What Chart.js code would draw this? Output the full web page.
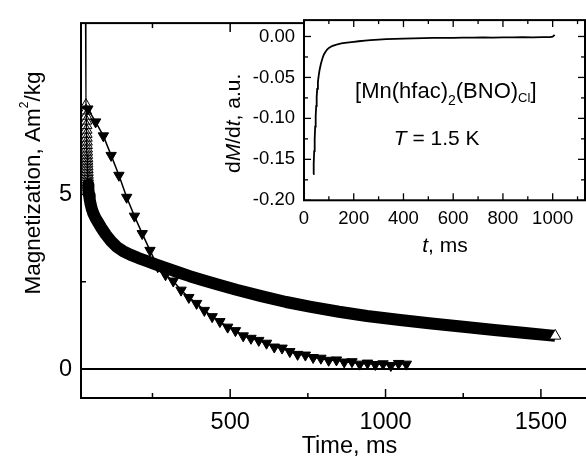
<!DOCTYPE html>
<html><head><meta charset="utf-8">
<script src="https://cdn.jsdelivr.net/npm/chart.js@4/dist/chart.umd.min.js"></script>
<style>
html,body{margin:0;padding:0;background:#fff;overflow:hidden;width:586px;height:465px;}
#wrap{position:relative;width:586px;height:465px;overflow:hidden;background:#fff;}
#main{position:absolute;left:0;top:0;}
#inset{position:absolute;left:200px;top:0;}
</style></head><body>
<div id="wrap">
<canvas id="main" width="600" height="465"></canvas>
<canvas id="inset" width="386" height="265"></canvas>
</div>
<script>
// ---------- data ----------
// open triangles: slow relaxation, Magnetization (Am2/kg) vs time (ms)
const slowT = [33, 36, 36.3, 36.6, 36.9, 37.2, 37.5, 37.8, 38.1, 38.4, 38.7, 39, 39.3, 39.6, 39.9, 40.2, 40.5, 40.8, 41.1, 41.4, 41.7, 42, 42.4, 42.8, 43.2, 43.6, 44, 46, 48, 51, 55, 60, 67, 75, 85, 100, 117, 135, 155, 180, 205, 230, 260, 295, 330, 370, 410, 460, 520, 600, 680, 760, 850, 940, 1040, 1140, 1250, 1350, 1450, 1546];
const slowM = [12, 7.56, 7.40, 7.25, 7.11, 6.98, 6.85, 6.73, 6.62, 6.51, 6.41, 6.31, 6.22, 6.13, 6.04, 5.96, 5.88, 5.80, 5.72, 5.64, 5.56, 5.49, 5.42, 5.35, 5.28, 5.21, 5.13, 4.98, 4.86, 4.72, 4.58, 4.45, 4.32, 4.2, 4.05, 3.85, 3.66, 3.5, 3.38, 3.27, 3.18, 3.1, 3.0, 2.89, 2.78, 2.66, 2.55, 2.42, 2.27, 2.09, 1.92, 1.78, 1.64, 1.52, 1.41, 1.31, 1.21, 1.12, 1.03, 0.95];
// filled triangles: fast relaxation
const fastT = [42, 67, 92, 117, 142, 167, 192, 217, 242, 267, 292, 317, 342, 367, 392, 417, 442, 467, 492, 517, 542, 567, 592, 617, 642, 667, 692, 717, 742, 767, 792, 817, 842, 867, 892, 917, 942, 967, 992, 1017, 1042, 1067];
const fastM = [7.45, 7.08, 6.68, 6.12, 5.55, 4.92, 4.38, 3.88, 3.4, 2.93, 2.7, 2.52, 2.26, 2.05, 1.88, 1.68, 1.5, 1.36, 1.2, 1.1, 0.95, 0.88, 0.82, 0.74, 0.63, 0.6, 0.5, 0.42, 0.4, 0.33, 0.31, 0.25, 0.26, 0.2, 0.21, 0.14, 0.17, 0.13, 0.15, 0.1, 0.16, 0.14];
// inset: dM/dt (a.u.) vs t (ms)
const insetT = [37, 39, 41, 43, 45, 47, 49, 51, 53, 56, 59, 62, 66, 70, 75, 80, 86, 93, 100, 108, 115, 125, 135, 150, 173, 200, 220, 245, 267, 300, 330, 365, 400, 440, 480, 520, 560, 600, 640, 680, 720, 760, 800, 840, 880, 920, 960, 990, 1000, 1008];
const insetV = [-0.168, -0.155, -0.140, -0.125, -0.110, -0.097, -0.085, -0.074, -0.064, -0.055, -0.048, -0.042, -0.036, -0.031, -0.026, -0.022, -0.019, -0.016, -0.014, -0.0125, -0.0115, -0.0105, -0.0095, -0.0085, -0.0075, -0.0065, -0.0058, -0.005, -0.0045, -0.0038, -0.0033, -0.003, -0.0025, -0.0022, -0.002, -0.0018, -0.0016, -0.0017, -0.0013, -0.0015, -0.0011, -0.0013, -0.001, -0.0012, -0.0009, -0.001, -0.0008, -0.0009, -0.0003, 0.002];

// tick values / labels
const mainXTicks = [250, 500, 750, 1000, 1250, 1500];
const mainXLabeled = [500, 1000, 1500];
const mainYTicks = [0, 2.5, 5, 7.5];
const mainYLabeled = [0, 5];
const insetXTicks = [0, 100, 200, 300, 400, 500, 600, 700, 800, 900, 1000, 1100];
const insetXLabeled = [0, 200, 400, 600, 800, 1000];
const insetYTicks = [-0.2, -0.175, -0.15, -0.125, -0.1, -0.075, -0.05, -0.025, 0];
const insetYLabeled = [-0.2, -0.15, -0.1, -0.05, 0];

// ---------- helpers ----------
const FONT = "'Liberation Sans', Arial, Helvetica, sans-serif";
const near = (arr, v) => arr.some(a => Math.abs(a - v) < 1e-9);
const pts = (xs, ys) => xs.map((x, i) => ({x: x, y: ys[i]}));

function drawRuns(ctx, runs, x, y) {
  let w = 0;
  runs.forEach(r => { ctx.font = r.f; r.w = ctx.measureText(r.t).width; w += r.w; });
  let cx = x - w / 2;
  ctx.textAlign = 'left';
  ctx.textBaseline = 'alphabetic';
  runs.forEach(r => { ctx.font = r.f; ctx.fillText(r.t, cx, y + (r.dy || 0)); cx += r.w; });
}

const frameTicks = {
  id: 'frameTicks',
  beforeDraw(chart, args, o) {
    if (!o.fill) return;
    const a = chart.chartArea, ctx = chart.ctx;
    ctx.save(); ctx.fillStyle = o.fill;
    ctx.fillRect(a.left, a.top, a.right - a.left, a.bottom - a.top);
    ctx.restore();
  },
  afterDraw(chart, args, o) {
    const a = chart.chartArea, ctx = chart.ctx;
    const xs = chart.scales.x, ys = chart.scales.y;
    ctx.save();
    ctx.strokeStyle = '#000';
    ctx.lineWidth = o.tickWidth;
    const seg = (x1, y1, x2, y2) => { ctx.beginPath(); ctx.moveTo(x1, y1); ctx.lineTo(x2, y2); ctx.stroke(); };
    xs.ticks.forEach(t => {
      const p = xs.getPixelForValue(t.value);
      const len = t.label ? o.major : o.minor;
      seg(p, a.bottom, p, a.bottom - len);
      seg(p, a.top, p, a.top + len);
    });
    ys.ticks.forEach(t => {
      const p = ys.getPixelForValue(t.value);
      const len = t.label ? o.major : o.minor;
      seg(a.left, p, a.left + len, p);
      if (o.right) seg(a.right, p, a.right - len, p);
    });
    ctx.lineWidth = o.frameWidth;
    ctx.strokeRect(a.left, a.top, a.right - a.left, a.bottom - a.top);
    ctx.restore();
  }
};

// ---------- main chart ----------
const bandStart = slowT.indexOf(43.2);
const lastSlow = slowT.length - 1;
const mainTexts = {
  id: 'mainTexts',
  afterDraw(chart) {
    const ctx = chart.ctx;
    ctx.save();
    ctx.fillStyle = '#000';
    drawRuns(ctx, [{t: 'Time, ms', f: '23.5px ' + FONT}], 349.5, 453);
    ctx.translate(39.5, 183);
    ctx.rotate(-Math.PI / 2);
    drawRuns(ctx, [
      {t: 'Magnetization, Am', f: '22.5px ' + FONT},
      {t: '2', f: '12px ' + FONT, dy: -12},
      {t: '/kg', f: '22.5px ' + FONT}
    ], 0, 0);
    ctx.restore();
  }
};

new Chart(document.getElementById('main'), {
  type: 'scatter',
  data: {
    datasets: [
      {
        label: 'fast',
        data: pts(fastT, fastM),
        showLine: true,
        borderColor: '#000',
        borderWidth: 1.5,
        pointStyle: 'triangle',
        rotation: 180,
        pointRadius: 6,
        pointBackgroundColor: '#000',
        pointBorderColor: '#000',
        pointBorderWidth: 1
      },
      {
        label: 'slow',
        data: pts(slowT, slowM),
        showLine: true,
        borderColor: '#000',
        borderWidth: 1.2,
        borderJoinStyle: 'round',
        segment: {
          borderWidth: c => (c.p0DataIndex >= bandStart ? 12 : 1.2)
        },
        pointStyle: 'triangle',
        pointRadius: c => ((c.dataIndex >= 1 && c.dataIndex <= bandStart + 2) || c.dataIndex === lastSlow ? 6.5 : 0),
        pointBackgroundColor: c => (c.dataIndex === lastSlow ? '#fff' : 'rgba(0,0,0,0)'),
        pointBorderColor: '#000',
        pointBorderWidth: 1,
        clip: 0
      }
    ]
  },
  options: {
    responsive: false,
    animation: false,
    events: [],
    layout: {padding: {top: 15, right: 5, left: 0, bottom: 0}},
    plugins: {
      legend: {display: false},
      tooltip: {enabled: false},
      frameTicks: {major: 9, minor: 5, tickWidth: 1.5, frameWidth: 2, right: false, fill: null}
    },
    scales: {
      x: {
        type: 'linear', min: 20, max: 1666,
        afterBuildTicks: s => { s.ticks = mainXTicks.map(v => ({value: v})); },
        afterFit: s => { s.height = 67; },
        grid: {display: false, drawTicks: false},
        border: {display: false},
        ticks: {
          autoSkip: false, maxRotation: 0, padding: 10, color: '#000',
          font: {family: FONT, size: 23.5},
          callback: v => (near(mainXLabeled, v) ? String(v) : '')
        }
      },
      y: {
        type: 'linear', min: -0.83, max: 9.91,
        afterBuildTicks: s => { s.ticks = mainYTicks.map(v => ({value: v})); },
        afterFit: s => { s.width = 81; },
        grid: {
          drawTicks: false,
          color: c => (c.tick && c.tick.value === 0 ? '#000' : 'rgba(0,0,0,0)'),
          lineWidth: 2
        },
        border: {display: false},
        ticks: {
          autoSkip: false, padding: 9, color: '#000',
          font: {family: FONT, size: 23.5},
          callback: v => (near(mainYLabeled, v) ? String(v) : '')
        }
      }
    }
  },
  plugins: [frameTicks, mainTexts]
});

// ---------- inset chart ----------
const OX = 200;
const insetTexts = {
  id: 'insetTexts',
  afterDraw(chart) {
    const ctx = chart.ctx;
    ctx.save();
    ctx.fillStyle = '#000';
    drawRuns(ctx, [
      {t: '[Mn(hfac)', f: '22px ' + FONT},
      {t: '2', f: '14px ' + FONT, dy: 6.5},
      {t: '(BNO)', f: '22px ' + FONT},
      {t: 'Cl', f: '13px ' + FONT, dy: 4},
      {t: ']', f: '22px ' + FONT}
    ], 445.8 - OX, 98);
    drawRuns(ctx, [
      {t: 'T', f: 'italic 21px ' + FONT},
      {t: ' = 1.5 K', f: '21px ' + FONT}
    ], 436.7 - OX, 145);
    drawRuns(ctx, [
      {t: 't', f: 'italic 21px ' + FONT},
      {t: ', ms', f: '21px ' + FONT}
    ], 445 - OX, 251.7);
    ctx.translate(240 - OX, 123.3);
    ctx.rotate(-Math.PI / 2);
    drawRuns(ctx, [
      {t: 'd', f: '21px ' + FONT},
      {t: 'M', f: 'italic 21px ' + FONT},
      {t: '/d', f: '21px ' + FONT},
      {t: 't', f: 'italic 21px ' + FONT},
      {t: ', a.u.', f: '21px ' + FONT}
    ], 0, 0);
    ctx.restore();
  }
};

new Chart(document.getElementById('inset'), {
  type: 'scatter',
  data: {
    datasets: [{
      label: 'dM/dt',
      data: pts(insetT, insetV),
      showLine: true,
      borderColor: '#000',
      borderWidth: 1.8,
      pointRadius: 0
    }]
  },
  options: {
    responsive: false,
    animation: false,
    events: [],
    layout: {padding: {top: 15, right: 1, left: 0, bottom: 0}},
    plugins: {
      legend: {display: false},
      tooltip: {enabled: false},
      frameTicks: {major: 7, minor: 4, tickWidth: 1.3, frameWidth: 2, right: true, fill: '#fff'}
    },
    scales: {
      x: {
        type: 'linear', min: 0, max: 1130,
        afterBuildTicks: s => { s.ticks = insetXTicks.map(v => ({value: v})); },
        afterFit: s => { s.height = 64.7; },
        grid: {display: false, drawTicks: false},
        border: {display: false},
        ticks: {
          autoSkip: false, maxRotation: 0, padding: 8, color: '#000',
          font: {family: FONT, size: 18.5},
          callback: v => (near(insetXLabeled, v) ? String(v) : '')
        }
      },
      y: {
        type: 'linear', min: -0.2, max: 0.02,
        afterBuildTicks: s => { s.ticks = insetYTicks.map(v => ({value: v})); },
        afterFit: s => { s.width = 104; },
        grid: {display: false, drawTicks: false},
        border: {display: false},
        ticks: {
          autoSkip: false, padding: 9, color: '#000',
          font: {family: FONT, size: 18.5},
          callback: v => (near(insetYLabeled, v) ? v.toFixed(2) : '')
        }
      }
    }
  },
  plugins: [frameTicks, insetTexts]
});
</script>
</body></html>
